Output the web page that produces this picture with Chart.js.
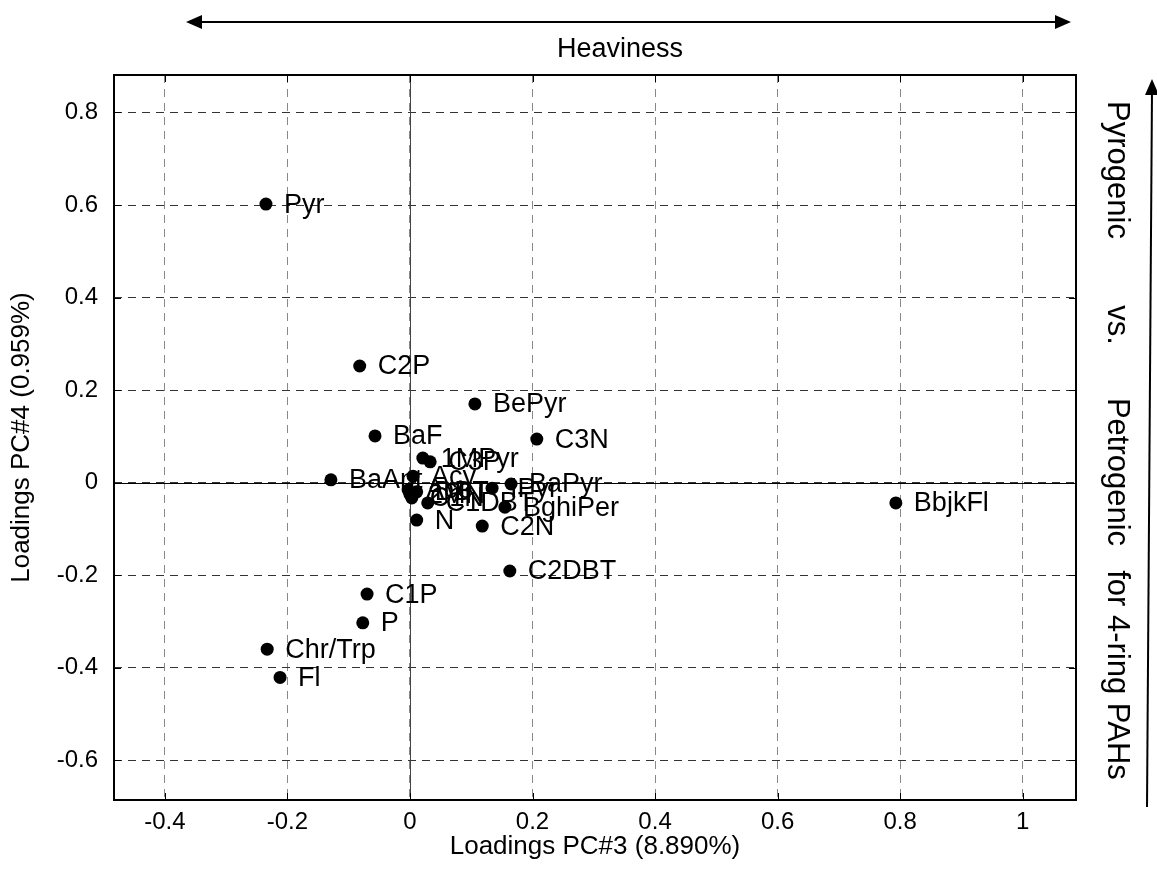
<!DOCTYPE html>
<html>
<head>
<meta charset="utf-8">
<script src="https://cdn.jsdelivr.net/npm/chart.js@4.4.0/dist/chart.umd.min.js"></script>
<style>
  html, body { margin: 0; padding: 0; background: #fff; }
  canvas { display: block; }
</style>
</head>
<body>
<canvas id="chart" width="1157" height="874"></canvas>
<script>
// loadings
const compounds = ['Pyr', 'C2P', 'BePyr', 'C3N', 'BaF', '1MPyr', 'C3P', 'BaAnt', 'Acy', 'Ace',
    '2MN', 'C1N', 'DBT', 'C1DBT', 'IPyr', 'BaPyr', 'BghiPer', 'BbjkFl', 'N', 'C2N',
    'C2DBT', 'C1P', 'P', 'Chr/Trp', 'Fl'];
const pc3 = [-0.235, -0.082, 0.106, 0.207, -0.057, 0.021, 0.033, -0.129, 0.005, -0.003,
    0.000, 0.003, 0.011, 0.029, 0.134, 0.165, 0.155, 0.793, 0.011, 0.118,
    0.163, -0.070, -0.077, -0.233, -0.212];
const pc4 = [0.602, 0.252, 0.170, 0.094, 0.101, 0.053, 0.045, 0.006, 0.014, -0.016,
    -0.025, -0.033, -0.020, -0.044, -0.012, -0.003, -0.053, -0.044, -0.081, -0.094,
    -0.191, -0.241, -0.303, -0.360, -0.421];
const xTicks = [-0.4, -0.2, 0, 0.2, 0.4, 0.6, 0.8, 1];
const yTicks = [-0.6, -0.4, -0.2, 0, 0.2, 0.4, 0.6, 0.8];
const xTitle = 'Loadings PC#3 (8.890%)';
const yTitle = 'Loadings PC#4 (0.959%)';
const topLabel = 'Heaviness';
const sideWords = ['Pyrogenic', 'vs.', 'Petrogenic', 'for 4-ring PAHs'];

const FONT = '"Liberation Sans", Arial, Helvetica, sans-serif';

function arrowHead(ctx, x, y, angle) {
    ctx.save();
    ctx.translate(x, y);
    ctx.rotate(angle);
    ctx.beginPath();
    ctx.moveTo(0, 0);
    ctx.lineTo(-16, -7);
    ctx.lineTo(-16, 7);
    ctx.closePath();
    ctx.fill();
    ctx.restore();
}

const decorations = {
    id: 'decorations',
    beforeDatasetsDraw(chart) {
        const { ctx, chartArea: a, scales: { x, y } } = chart;
        ctx.save();
        // zero lines
        ctx.lineWidth = 1;
        ctx.strokeStyle = '#444';
        const x0 = Math.round(x.getPixelForValue(0)) + 0.5;
        ctx.beginPath(); ctx.moveTo(x0, a.top); ctx.lineTo(x0, a.bottom); ctx.stroke();
        ctx.strokeStyle = '#000';
        const y0 = Math.round(y.getPixelForValue(0)) + 0.5;
        ctx.beginPath(); ctx.moveTo(a.left, y0); ctx.lineTo(a.right, y0); ctx.stroke();

        // inward tick marks
        ctx.strokeStyle = '#000';
        xTicks.forEach(v => {
            const px = Math.round(x.getPixelForValue(v)) + 0.5;
            ctx.beginPath();
            ctx.moveTo(px, a.top); ctx.lineTo(px, a.top + 7);
            ctx.moveTo(px, a.bottom); ctx.lineTo(px, a.bottom - 7);
            ctx.stroke();
        });
        yTicks.forEach(v => {
            const py = Math.round(y.getPixelForValue(v)) + 0.5;
            ctx.beginPath();
            ctx.moveTo(a.left, py); ctx.lineTo(a.left + 7, py);
            ctx.moveTo(a.right, py); ctx.lineTo(a.right - 7, py);
            ctx.stroke();
        });

        // frame
        ctx.lineWidth = 2;
        ctx.strokeRect(a.left, a.top, a.right - a.left, a.bottom - a.top);

        // point labels
        const meta = chart.getDatasetMeta(0);
        ctx.fillStyle = '#000';
        ctx.font = '27px ' + FONT;
        ctx.textAlign = 'left';
        ctx.textBaseline = 'middle';
        meta.data.forEach((pt, i) => {
            ctx.fillText(compounds[i], pt.x + 18, pt.y + 1);
        });
        ctx.restore();
    },
    afterDraw(chart) {
        const { ctx } = chart;
        ctx.save();
        ctx.fillStyle = '#000';
        ctx.strokeStyle = '#000';
        ctx.lineWidth = 2;

        // top arrow
        ctx.beginPath(); ctx.moveTo(195, 22); ctx.lineTo(1062, 22); ctx.stroke();
        arrowHead(ctx, 186, 22, Math.PI);
        arrowHead(ctx, 1071, 22, 0);
        ctx.font = '27px ' + FONT;
        ctx.textAlign = 'center';
        ctx.textBaseline = 'middle';
        ctx.fillText(topLabel, 620, 50);

        // right arrow
        ctx.beginPath(); ctx.moveTo(1147, 807); ctx.lineTo(1152, 90); ctx.stroke();
        arrowHead(ctx, 1152, 79, -Math.PI / 2);

        // side text, reading top to bottom
        const centres = [170, 325, 472, 675];
        ctx.font = '31px ' + FONT;
        sideWords.forEach((w, i) => {
            ctx.save();
            ctx.translate(1117, centres[i]);
            ctx.rotate(Math.PI / 2);
            ctx.fillText(w, 0, 0);
            ctx.restore();
        });
        ctx.restore();
    }
};

new Chart(document.getElementById('chart').getContext('2d'), {
    type: 'scatter',
    data: {
        datasets: [{
            data: pc3.map((v, i) => ({ x: v, y: pc4[i] })),
            backgroundColor: '#000',
            borderWidth: 0,
            pointRadius: 6.5,
            pointHoverRadius: 6.5
        }]
    },
    options: {
        responsive: false,
        animation: false,
        layout: { padding: { top: 75, right: 81, left: 0, bottom: 0 } },
        plugins: { legend: { display: false }, tooltip: { enabled: false } },
        scales: {
            x: {
                type: 'linear',
                min: -0.483,
                max: 1.087,
                afterBuildTicks: s => { s.ticks = xTicks.map(v => ({ value: v })); },
                afterFit: s => { s.height = 74; },
                ticks: {
                    autoSkip: false, maxRotation: 0, padding: 8, color: '#000',
                    font: { family: FONT, size: 24 },
                    callback: v => String(v)
                },
                grid: { color: '#888', lineWidth: 1, drawTicks: false },
                border: { display: false, dash: [8, 6] },
                title: {
                    display: true, text: xTitle, color: '#000',
                    font: { family: FONT, size: 26 },
                    padding: { top: 0, bottom: 12 }
                }
            },
            y: {
                type: 'linear',
                min: -0.686,
                max: 0.881,
                afterBuildTicks: s => { s.ticks = yTicks.map(v => ({ value: v })); },
                afterFit: s => { s.width = 114; },
                ticks: {
                    autoSkip: false, padding: 16, color: '#000',
                    font: { family: FONT, size: 24 },
                    callback: v => String(v)
                },
                grid: { color: '#333', lineWidth: 1, drawTicks: false },
                border: { display: false, dash: [8, 6] },
                title: {
                    display: true, text: yTitle, color: '#000',
                    font: { family: FONT, size: 26 },
                    padding: { top: 6, bottom: 0 }
                }
            }
        }
    },
    plugins: [decorations]
});
</script>
</body>
</html>
